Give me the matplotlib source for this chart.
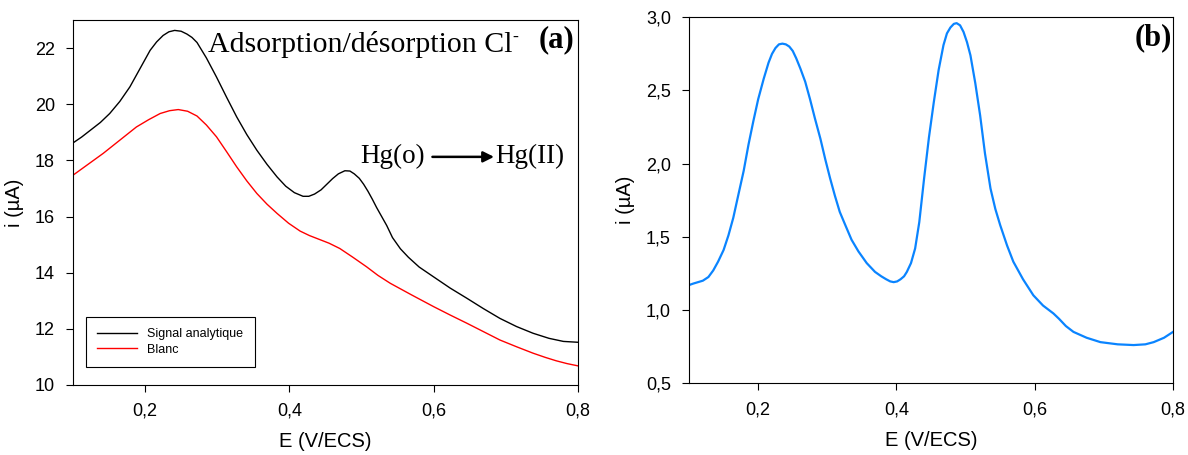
import numpy as np
import matplotlib.pyplot as plt
from matplotlib.ticker import FuncFormatter

plt.rcParams['font.family'] = ['Liberation Sans', 'DejaVu Sans']

## panel (a) : signal analytique et blanc
E_sig = [0.100, 0.112, 0.124, 0.138, 0.151, 0.165, 0.179, 0.193, 0.207, 0.216,
         0.225, 0.233, 0.241, 0.250, 0.258, 0.265, 0.272, 0.285, 0.299, 0.313,
         0.327, 0.341, 0.355, 0.369, 0.383, 0.395, 0.407, 0.419, 0.427, 0.435,
         0.444, 0.452, 0.460, 0.468, 0.477, 0.484, 0.490, 0.497, 0.503, 0.509,
         0.515, 0.521, 0.528, 0.535, 0.543, 0.554, 0.565, 0.580, 0.600, 0.623,
         0.646, 0.669, 0.692, 0.715, 0.738, 0.760, 0.780, 0.800]
i_sig = [18.62, 18.83, 19.07, 19.35, 19.67, 20.10, 20.62, 21.27, 21.92, 22.22,
         22.45, 22.58, 22.63, 22.60, 22.50, 22.38, 22.20, 21.65, 20.97, 20.25,
         19.55, 18.92, 18.36, 17.86, 17.41, 17.08, 16.85, 16.72, 16.72, 16.80,
         16.95, 17.15, 17.35, 17.52, 17.63, 17.62, 17.52, 17.36, 17.15, 16.90,
         16.62, 16.32, 16.00, 15.68, 15.25, 14.85, 14.55, 14.20, 13.85, 13.45,
         13.09, 12.72, 12.37, 12.08, 11.84, 11.66, 11.55, 11.52]

E_blanc = [0.100, 0.121, 0.142, 0.165, 0.188, 0.205, 0.221, 0.234, 0.246, 0.259,
           0.272, 0.285, 0.299, 0.313, 0.327, 0.341, 0.355, 0.369, 0.383, 0.399,
           0.415, 0.428, 0.440, 0.455, 0.470, 0.488, 0.507, 0.523, 0.540, 0.570,
           0.600, 0.623, 0.646, 0.669, 0.692, 0.715, 0.738, 0.755, 0.770, 0.785,
           0.800]
i_blanc = [17.47, 17.86, 18.25, 18.72, 19.19, 19.45, 19.67, 19.77, 19.81, 19.75,
           19.58, 19.26, 18.84, 18.31, 17.77, 17.27, 16.82, 16.44, 16.11, 15.76,
           15.48, 15.32, 15.20, 15.05, 14.86, 14.55, 14.21, 13.90, 13.62, 13.20,
           12.79, 12.49, 12.20, 11.90, 11.60, 11.36, 11.13, 10.98, 10.86, 10.76,
           10.68]

## panel (b)
E_b = [0.100, 0.106, 0.113, 0.120, 0.128, 0.135, 0.142, 0.150, 0.157, 0.164,
       0.171, 0.179, 0.186, 0.193, 0.200, 0.208, 0.215, 0.220, 0.225, 0.230,
       0.235, 0.240, 0.245, 0.250, 0.255, 0.261, 0.268, 0.275, 0.282, 0.290,
       0.297, 0.304, 0.311, 0.318, 0.326, 0.335, 0.345, 0.357, 0.369, 0.378,
       0.385, 0.391, 0.396, 0.401, 0.406, 0.411, 0.415, 0.421, 0.427, 0.433,
       0.440, 0.447, 0.454, 0.461, 0.468, 0.473, 0.478, 0.483, 0.487, 0.492,
       0.497, 0.502, 0.507, 0.514, 0.521, 0.528, 0.536, 0.543, 0.550, 0.560,
       0.569, 0.583, 0.598, 0.612, 0.627, 0.635, 0.645, 0.656, 0.675, 0.695,
       0.720, 0.743, 0.760, 0.772, 0.787, 0.800]
i_b = [1.17, 1.18, 1.19, 1.20, 1.225, 1.27, 1.33, 1.41, 1.51, 1.63,
       1.78, 1.95, 2.13, 2.29, 2.44, 2.58, 2.69, 2.75, 2.79, 2.815,
       2.82, 2.815, 2.80, 2.77, 2.72, 2.65, 2.56, 2.44, 2.31, 2.17,
       2.03, 1.90, 1.78, 1.67, 1.58, 1.48, 1.40, 1.32, 1.26, 1.23,
       1.21, 1.195, 1.19, 1.195, 1.21, 1.23, 1.26, 1.32, 1.42, 1.60,
       1.90, 2.18, 2.42, 2.64, 2.81, 2.89, 2.93, 2.955, 2.96, 2.945,
       2.90, 2.83, 2.74, 2.55, 2.33, 2.07, 1.83, 1.69, 1.58, 1.44,
       1.33, 1.21, 1.10, 1.03, 0.976, 0.94, 0.89, 0.85, 0.81, 0.78,
       0.765, 0.76, 0.765, 0.78, 0.81, 0.85]

xticks = [0.2, 0.4, 0.6, 0.8]

def virgule(v, pos):
    return ('%.1f' % v).replace('.', ',')

fig = plt.figure(figsize=(11.88, 4.55), dpi=100)
ax1 = fig.add_axes([0.0614, 0.154, 0.425, 0.802])
ax2 = fig.add_axes([0.58, 0.158, 0.4074, 0.804])

ax1.plot(E_sig, i_sig, color='black', lw=1.0, label='Signal analytique')
ax1.plot(E_blanc, i_blanc, color='red', lw=1.0, label='Blanc')
ax1.set_xlim(0.1, 0.8)
ax1.set_ylim(10, 23)
ax1.set_yticks(range(10, 23, 2))
ax1.yaxis.set_major_formatter(FuncFormatter(lambda v, p: '%d' % v))

ax2.plot(E_b, i_b, color='#0a84ff', lw=1.6)
ax2.set_xlim(0.1, 0.8)
ax2.set_ylim(0.5, 3.0)
ax2.set_yticks([0.5, 1.0, 1.5, 2.0, 2.5, 3.0])
ax2.yaxis.set_major_formatter(FuncFormatter(virgule))

for ax in (ax1, ax2):
    ax.set_xticks(xticks)
    ax.xaxis.set_major_formatter(FuncFormatter(virgule))
    ax.tick_params(direction='out', length=5, width=0.8, labelsize=13, pad=8)
    ax.set_xlabel('E (V/ECS)', fontsize=14.5, labelpad=9)
    ax.set_ylabel('i (µA)', fontsize=14.5, labelpad=8)
    for s in ax.spines.values():
        s.set_linewidth(0.8)

leg = ax1.legend(loc='lower left', bbox_to_anchor=(0.026, 0.049), borderaxespad=0,
                 fontsize=9, fancybox=False, edgecolor='black', framealpha=1,
                 handlelength=3.2, borderpad=0.9, labelspacing=0.3)
leg.get_frame().set_linewidth(0.8)

serif = ['Liberation Serif', 'DejaVu Serif']
ax1.text(0.267, 0.934, 'Adsorption/désorption Cl', transform=ax1.transAxes,
         fontsize=21.5, family=serif, va='center', ha='left')
ax1.text(0.870, 0.952, '-', transform=ax1.transAxes,
         fontsize=13, family=serif, va='center', ha='left')
ax1.text(0.994, 0.945, '(a)', transform=ax1.transAxes, fontsize=22,
         family=serif, fontweight='bold', va='center', ha='right')
ax2.text(0.997, 0.945, '(b)', transform=ax2.transAxes, fontsize=22,
         family=serif, fontweight='bold', va='center', ha='right')

ax1.text(0.697, 0.625, 'Hg(o)', transform=ax1.transAxes, fontsize=19.5,
         family=serif, va='center', ha='right')
ax1.text(0.836, 0.625, 'Hg(II)', transform=ax1.transAxes, fontsize=19.5,
         family=serif, va='center', ha='left')
ax1.annotate('', xy=(0.834, 0.625), xytext=(0.712, 0.625),
             xycoords='axes fraction', textcoords='axes fraction',
             arrowprops=dict(arrowstyle='-|>', color='black', lw=1.8,
                             mutation_scale=16, shrinkA=0, shrinkB=0))

fig.savefig('out.png', dpi=100)
